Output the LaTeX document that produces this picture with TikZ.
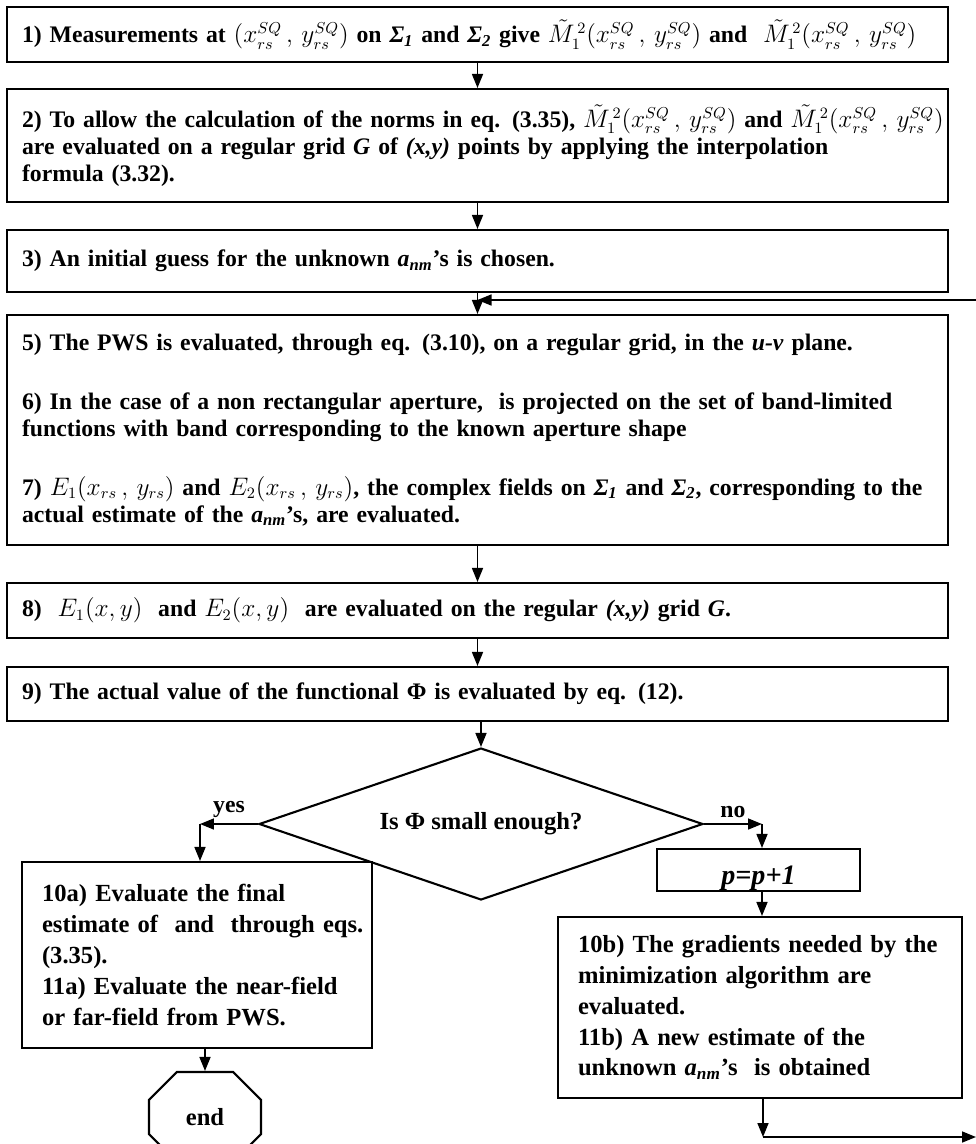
\documentclass[tikz,border=0pt]{standalone}
\usepackage{amsmath}
\usepackage{fontspec}
\setmainfont{Liberation Serif}
\usepackage{tikz}
\usetikzlibrary{shapes.geometric, shapes.misc, arrows.meta}

% one unit = one pixel of the 976 x 1144 sheet (0.02cm)
\newcommand{\boxfont}{\fontsize{13.5pt}{15.4pt}\selectfont\bfseries}
\newcommand{\lowfont}{\fontsize{14pt}{17.6pt}\selectfont\bfseries}
\newcommand{\anm}{\textit{a}\textsubscript{\textit{nm}}}
\newcommand{\Sig}[1]{\textit{Σ}\textsubscript{\textit{#1}}}
\newcommand{\Mt}{\tilde{M}_{1}^{\,2}}
\newcommand{\sq}{(x_{rs}^{SQ}\,,\,y_{rs}^{SQ})}
\newcommand{\rs}{(x_{rs}\,,\,y_{rs})}

\begin{document}
\begin{tikzpicture}[x=0.02cm, y=-0.02cm,
    >={Triangle[length=0.28cm, width=0.22cm]},
    every node/.style={font=\boxfont},
    proc/.style={draw, line width=1.2pt, rectangle, align=left, inner xsep=0.3cm, inner ysep=0pt},
    wide/.style={proc, minimum width=18.82cm, text width=18.22cm},
    low/.style={proc, font=\lowfont, inner xsep=0.4cm},
    decision/.style={draw, line width=1.2pt, diamond, aspect=2.9, minimum width=8.88cm, minimum height=3.04cm, inner sep=0pt, font=\lowfont},
    term/.style={draw, line width=1.2pt, chamfered rectangle, chamfered rectangle xsep=0.38cm, chamfered rectangle ysep=0.48cm, minimum width=2.24cm, minimum height=1.8cm, inner sep=0pt, font=\lowfont},
    flow/.style={->, line width=0.9pt}]
    \useasboundingbox (0,0) rectangle (976,1144);

    % main column
    \node[wide, minimum height=1.1cm] (meas) at (477.5,34.5)
        {\mbox{1) Measurements at $\sq$ on \Sig{1} and \Sig{2} give $\Mt\sq$ and \ $\Mt\sq$}};
    \node[wide, minimum height=2.26cm] (interp) at (477.5,145.5)
        {\mbox{2) To allow the calculation of the norms in eq. (3.35), $\Mt\sq$ and $\Mt\sq$}\\
         \mbox{are evaluated on a regular grid \textit{G} of \textit{(x,y)} points by applying the interpolation}\\
         formula (3.32).};
    \node[wide, minimum height=1.24cm] (guess) at (477.5,261)
        {\mbox{3) An initial guess for the unknown \anm’s is chosen.}};
    \node[wide, minimum height=4.6cm] (loop) at (477.5,430)
        {\mbox{5) The PWS is evaluated, through eq. (3.10), on a regular grid, in the \textit{u-v} plane.}\\[18pt]
         \mbox{6) In the case of a non rectangular aperture, \ is projected on the set of band-limited}\\
         \mbox{functions with band corresponding to the known aperture shape}\\[18pt]
         \mbox{7) $E_1\rs$ and $E_2\rs$, the complex fields on \Sig{1} and \Sig{2}, corresponding to the}\\
         \mbox{actual estimate of the \anm’s, are evaluated.}};
    \node[wide, minimum height=1.1cm] (grid) at (477.5,610.5)
        {\mbox{8) \ $E_1(x,y)$ \ and $E_2(x,y)$ \ are evaluated on the regular \textit{(x,y)} grid \textit{G}.}};
    \node[wide, minimum height=1.08cm] (func) at (477.5,694)
        {\mbox{9) The actual value of the functional Φ is evaluated by eq. (12).}};
    \node[decision] (dec) at (481,824) {Is Φ small enough?};

    % exit branch
    \node[low, minimum width=7cm, minimum height=3.72cm, text width=6.2cm] (final) at (197,955)
        {\mbox{10a) Evaluate the final}\\
         \mbox{estimate of \ and \ through eqs.}\\
         \mbox{(3.35).}\\
         \mbox{11a) Evaluate the near-field}\\
         \mbox{or far-field from PWS.}};
    \node[term] (stop) at (205,1117) {end};

    % iteration branch
    \node[proc, minimum width=4.06cm, minimum height=0.84cm] (incr) at (758.5,870) {};
    \node[font=\fontsize{16pt}{18pt}\selectfont\bfseries\itshape] at (758.5,878) {p=p+1};
    \node[low, minimum width=8.08cm, minimum height=3.62cm, text width=7.28cm] (grad) at (760,1007.5)
        {\mbox{10b) The gradients needed by the}\\
         \mbox{minimization algorithm are}\\
         \mbox{evaluated.}\\
         \mbox{11b) A new estimate of the}\\
         \mbox{unknown \anm’s \ is obtained}};

    \coordinate (fb) at (976,300);
    \coordinate (yc) at (200,824);
    \coordinate (nc) at (762,824);
    \coordinate (back) at (763,1137);
    \coordinate (rim) at (976,1137);

    \draw[flow] (meas) -- (interp);
    \draw[flow] (interp) -- (guess);
    \draw[flow] (guess) -- (loop);
    \draw[flow] (fb) -- (fb -| guess.south);
    \draw[flow] (loop) -- (grid);
    \draw[flow] (grid) -- (func);
    \draw[flow] (func.south -| dec.north) -- (dec.north);

    \draw[flow] (dec.west) -- node[above] {yes} (yc);
    \draw[flow] (yc) -- (yc |- final.north);
    \draw[flow] (final.south -| stop.north) -- (stop.north);

    \draw[flow] (dec.east) -- node[above] {no} (nc);
    \draw[flow] (nc) -- (nc |- incr.north);
    \draw[flow] (incr.south -| nc) -- (grad.north -| nc);
    \draw[flow] (grad.south -| back) -- (back);
    \draw[flow] (back) -- (rim);
\end{tikzpicture}
\end{document}
